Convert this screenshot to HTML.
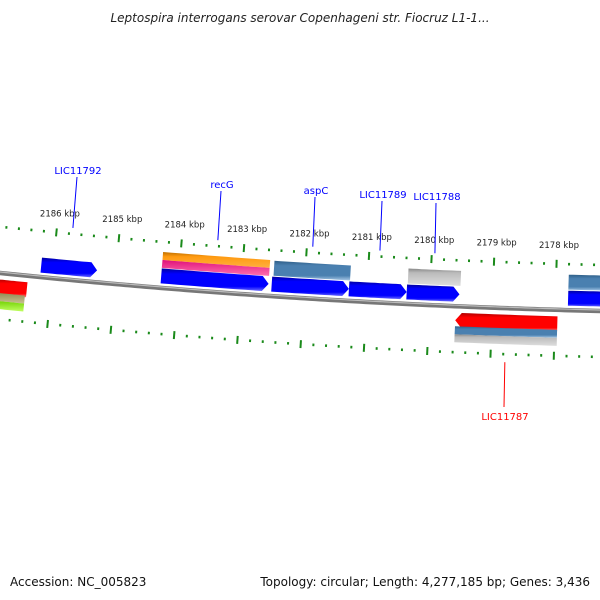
<!DOCTYPE html>
<html><head><meta charset="utf-8"><style>
body{margin:0;background:#fff;}
svg{display:block;font-family:"DejaVu Sans","Liberation Sans",sans-serif;}
</style></head><body>
<svg id="map" width="600" height="600" viewBox="0 0 600 600">
<defs>
<linearGradient id="gblue" x1="0" y1="0" x2="0" y2="1"><stop offset="0" stop-color="#0000a0"/><stop offset="0.25" stop-color="#0000ff"/><stop offset="0.8" stop-color="#0000ff"/><stop offset="1" stop-color="#6a6aff"/></linearGradient>
<linearGradient id="gsteel" x1="0" y1="0" x2="0" y2="1"><stop offset="0" stop-color="#2f5f88"/><stop offset="0.25" stop-color="#4a80b0"/><stop offset="0.75" stop-color="#4a80b0"/><stop offset="1" stop-color="#a8c8e6"/></linearGradient>
<linearGradient id="gred" x1="0" y1="0" x2="0" y2="1"><stop offset="0" stop-color="#b00000"/><stop offset="0.25" stop-color="#ff0000"/><stop offset="0.8" stop-color="#ff0000"/><stop offset="1" stop-color="#ff8080"/></linearGradient>
<linearGradient id="ggrey" x1="0" y1="0" x2="0" y2="1"><stop offset="0" stop-color="#888"/><stop offset="0.25" stop-color="#bbb"/><stop offset="1" stop-color="#ddd"/></linearGradient>
<linearGradient id="gorange" x1="0" y1="0" x2="0" y2="1"><stop offset="0" stop-color="#c07000"/><stop offset="0.3" stop-color="#ff9a10"/><stop offset="1" stop-color="#ffb040"/></linearGradient>
<linearGradient id="gmag" x1="0" y1="0" x2="0" y2="1"><stop offset="0" stop-color="#e0107a"/><stop offset="1" stop-color="#ff70b0"/></linearGradient>
<linearGradient id="golive" x1="0" y1="0" x2="0" y2="1"><stop offset="0" stop-color="#908850"/><stop offset="1" stop-color="#c8c090"/></linearGradient>
<linearGradient id="glime" x1="0" y1="0" x2="0" y2="1"><stop offset="0" stop-color="#70d000"/><stop offset="1" stop-color="#c0ff60"/></linearGradient>
</defs>
<text x="300" y="22" text-anchor="middle" font-size="12" font-style="italic" fill="#222">Leptospira interrogans serovar Copenhageni str. Fiocruz L1-1...</text>
<g id="ticks"></g><g id="backbone"></g><g id="features"></g><g id="labels"></g>
<text x="10" y="586" font-size="12" fill="#111">Accession: NC_005823</text>
<text x="590" y="586" text-anchor="end" font-size="12" fill="#111">Topology: circular; Length: 4,277,185 bp; Genes: 3,436</text>
</svg>
<script>
const majorTicks=[2186,2185,2184,2183,2182,2181,2180,2179,2178];
const featStart=[2186.19,2184.28,2182.52,2181.29,2180.37,2177.80,2184.28,2184.28,2182.50,2180.36,2177.80,2186.9,2179.58,2186.9,2186.9,2179.58,2179.58];
const featEnd  =[2185.30,2182.57,2181.29,2180.37,2179.53,2177.0 ,2182.57,2182.57,2181.28,2179.52,2177.0 ,2186.38,2177.96,2186.40,2186.40,2177.96,2177.96];
const featLane =[1,1,1,1,1,1,2.5,1.5,2,2,2,-1,-1,-1.5,-2.5,-1.5,-2.5];
const featColor=["gblue","gblue","gblue","gblue","gblue","gblue","gorange","gmag","gsteel","ggrey","gsteel","gred","gred","golive","glime","gsteel","ggrey"];
const featArrow=[1,1,1,1,1,0,0,0,0,0,0,0,-1,0,0,0,0];
const geneLabels=["LIC11792","recG","aspC","LIC11789","LIC11788","LIC11787"];
const geneLabelFeat=[0,1,2,3,4,12];
const labelPos=[[78,174],[222,188],[316,194],[383,198],[437,200],[505,420]];

const NS="http://www.w3.org/2000/svg";
function kx(p){return 52+(2186-p)*62.9;}
function by(x){return 273+0.1033*x-6.67e-5*x*x;}
function pt(p,d){const x=kx(p);const s=0.1033-2*6.67e-5*x;const n=Math.sqrt(1+s*s);return [x+s*d/n,by(x)-d/n];}
function mk(tag,attrs,parent){const e=document.createElementNS(NS,tag);for(const k in attrs)e.setAttribute(k,attrs[k]);parent.appendChild(e);return e;}

const tg=document.getElementById('ticks');
for(let i=0;i<=55;i++){const p=2188-i*0.2;const maj=Math.abs(p-Math.round(p))<0.01;
 [46,-46].forEach(r=>{const l=maj?4:1.3;const a=pt(p,r-l),b=pt(p,r+l);
  const e=mk('line',{x1:a[0],y1:a[1],x2:b[0],y2:b[1],stroke:'#1a8a1a','stroke-width':maj?2:2},tg);
  
  });}
majorTicks.forEach(p=>{const a=pt(p,62);
 const t=mk('text',{x:a[0]+2,y:a[1],'text-anchor':'middle','font-size':'8.5',fill:'#222'},tg);
 t.textContent=p+' kbp';
 
 });

const bg=document.getElementById('backbone');
let dp='';for(let x=-5;x<=605;x+=5){dp+=(x<0?'M':'L')+x+','+by(x);}
const bb=mk('path',{d:dp,stroke:'#777','stroke-width':4.5,fill:'none'},bg);


mk('path',{d:dp,stroke:'#bbb','stroke-width':1.2,fill:'none',transform:'translate(0,-1)'},bg);

const fg=document.getElementById('features');
featStart.forEach((s,i)=>{const e=featEnd[i];const ln=featLane[i];
 const half=Math.abs(ln)%1===0.5;const c=ln>0?(Math.abs(ln)===1?12:Math.abs(ln)===2?28:(ln===2.5?32:24)):(ln===-1?-14:ln===-2?-28:(ln===-1.5?-24:-32));
 const h=half?4:7.5;const top=c+h,bot=c-h;const N=12;let up=[],dn=[];
 let s2=s,e2=e;const tip=0.1;
 if(featArrow[i]===1)e2=e+tip; if(featArrow[i]===-1)s2=s-tip;
 for(let k=0;k<=N;k++){const p=s2+(e2-s2)*k/N;up.push(pt(p,top));dn.push(pt(p,bot));}
 let pts=[];
 if(featArrow[i]===-1)pts.push(pt(s,c));
 pts=pts.concat(up);
 if(featArrow[i]===1)pts.push(pt(e,c));
 pts=pts.concat(dn.reverse());
 const poly=mk('polygon',{points:pts.map(q=>q[0].toFixed(1)+','+q[1].toFixed(1)).join(' '),fill:'url(#'+featColor[i]+')'},fg);
 
 });

const lg=document.getElementById('labels');
geneLabels.forEach((g,i)=>{const f=geneLabelFeat[i];const mid=(featStart[f]+featEnd[f])/2;const rev=featLane[f]<0;
 const a=pt(mid,rev?-54:52);const L=labelPos[i];const col=rev?'#f00':'#00f';
 const ln=mk('line',{x1:a[0],y1:a[1],x2:L[0]-1,y2:rev?L[1]-13:L[1]+3,stroke:col,'stroke-width':1},lg);
 
 
 const t=mk('text',{x:L[0],y:L[1],'text-anchor':'middle','font-size':'10',fill:col},lg);
 t.textContent=g;
 
 });
</script>
</body></html>
